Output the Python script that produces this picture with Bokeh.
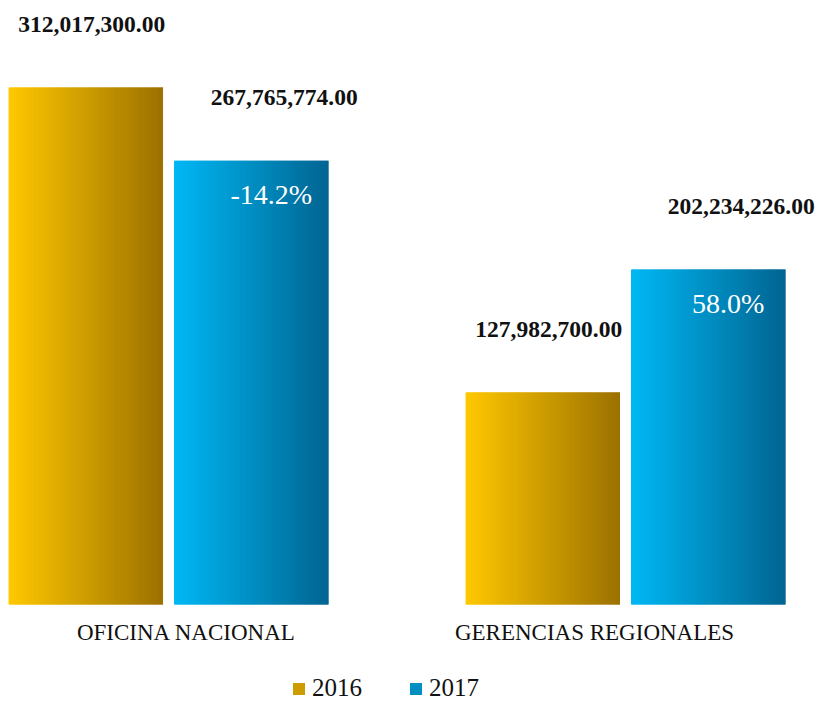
import numpy as np
from bokeh.plotting import figure
from bokeh.models import ColumnDataSource, Range1d, Legend, LegendItem
from bokeh.core.properties import value
from bokeh.embed import file_html
from bokeh.resources import INLINE

# ---------------- data ----------------
categories = ["OFICINA NACIONAL", "GERENCIAS REGIONALES"]
series_names = ["2016", "2017"]
values_2016 = [312017300.00, 127982700.00]
values_2017 = [267765774.00, 202234226.00]

# ---------------- style ----------------
W, H = 818, 702
GROUP_PX = 457          # pixels between group centres
FIRST_GROUP_PX = 168    # pixel position of first group centre
BASE_PX = 98            # baseline distance from bottom of figure
TOP_PX = 87             # top of tallest bar from top of figure
BAR_W = 0.338
DODGE = {"2016": -0.181, "2017": 0.181}
GRAD = {
    "2016": ((255, 200, 0), (156, 113, 0)),
    "2017": ((0, 184, 244), (0, 101, 146)),
}
VALUE_XOFF = {"2016": 6, "2017": 33}
CAT_XOFF = [18, -31]
N_SLICES = 150
FONT = "Liberation Serif"

vals = {"2016": values_2016, "2017": values_2017}
vmax = max(values_2016 + values_2017)
per_px = vmax / (H - BASE_PX - TOP_PX)

p = figure(width=W, height=H, output_backend="svg", toolbar_location=None,
           x_axis_location=None, y_axis_location=None, min_border=0,
           x_range=Range1d(-FIRST_GROUP_PX / GROUP_PX, (W - FIRST_GROUP_PX) / GROUP_PX),
           y_range=Range1d(-BASE_PX * per_px, (H - BASE_PX) * per_px))
p.grid.visible = False
p.outline_line_color = None
p.background_fill_color = "white"
p.border_fill_color = "white"


def lerp(c0, c1, t):
    return "#%02x%02x%02x" % tuple(int(round(a + (b - a) * t)) for a, b in zip(c0, c1))


renderers = {}
for s in series_names:
    lefts, rights, tops, colors = [], [], [], []
    c0, c1 = GRAD[s]
    for i, v in enumerate(vals[s]):
        left = i + DODGE[s] - BAR_W / 2
        step = BAR_W / N_SLICES
        for j in range(N_SLICES):
            lefts.append(left + j * step)
            rights.append(left + min(j + 2, N_SLICES) * step)
            tops.append(v)
            colors.append(lerp(c0, c1, j / (N_SLICES - 1)))
    src = ColumnDataSource(dict(left=lefts, right=rights, top=tops,
                                bottom=[0] * len(tops), color=colors))
    renderers[s] = p.quad(left="left", right="right", top="top", bottom="bottom",
                          source=src, fill_color="color", line_color=None)

# value labels
for s in series_names:
    xs = [i + DODGE[s] for i in range(len(categories))]
    labels = ["{:,.2f}".format(v) for v in vals[s]]
    p.text(x=xs, y=vals[s], text=labels, text_font=value(FONT),
           text_font_style="bold", text_font_size="23.5px", text_color="#111111",
           text_align="center", text_baseline="middle",
           x_offset=VALUE_XOFF[s], y_offset=-63)

# percentage change labels inside 2017 bars
pct = ["{:.1f}%".format((b / a - 1) * 100) for a, b in zip(values_2016, values_2017)]
p.text(x=[i + DODGE["2017"] for i in range(len(categories))], y=values_2017, text=pct,
       text_font=value(FONT), text_font_size="28px", text_color="white",
       text_align="center", text_baseline="middle", x_offset=20, y_offset=34)

# category labels
p.text(x=list(range(len(categories))), y=[0] * len(categories), text=categories,
       text_font=value(FONT), text_font_size="23px", text_color="#111111",
       text_align="center", text_baseline="middle", x_offset=CAT_XOFF, y_offset=28)

legend = Legend(items=[LegendItem(label=s, renderers=[renderers[s]], index=N_SLICES // 2)
                       for s in series_names],
                orientation="horizontal", location=(291, 0),
                label_text_font=FONT, label_text_font_size="25px",
                label_text_color="#111111",
                glyph_width=15, glyph_height=15, spacing=46, label_standoff=6,
                padding=0, margin=0, border_line_color=None,
                background_fill_alpha=0)
p.add_layout(legend)

open("out.html", "w").write(file_html(p, INLINE))
